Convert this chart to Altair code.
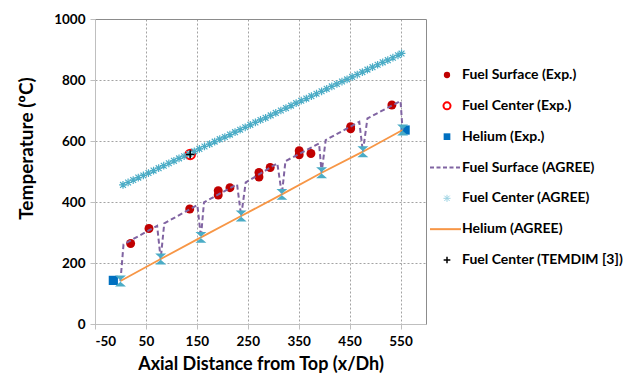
import altair as alt
import pandas as pd

# ---------------- data ----------------
# Fuel Surface (Exp.)
fs_exp_x = [20, 56, 136, 192, 192, 215, 272, 272, 294, 351, 351, 374, 452, 452, 533]
fs_exp_y = [264, 313, 377, 437, 423, 447, 497, 482, 513, 568, 555, 559, 647, 640, 718]

# Fuel Center (Exp.)
fc_exp_x = [137]
fc_exp_y = [556]

# Helium (Exp.)
he_exp_x = [-14, 559]
he_exp_y = [143, 636]

# Fuel Surface (AGREE) - dashed path with dips to helium temperature
fs_ag_x = [0, 6, 72, 79, 86, 151, 158, 164, 229, 237, 246, 308, 317, 324, 390, 395, 403, 469, 476, 485, 550, 554]
fs_ag_y = [141, 261, 322, 213, 330, 390, 284, 399, 458, 354, 464, 527, 425, 534, 592, 496, 603, 663, 565, 674, 731, 636]

# Fuel Center (AGREE) - dense asterisk chain
fc_ag_x = [5, 15, 25, 35, 45, 55, 65, 75, 85, 95, 105, 115, 125, 135, 145, 155, 165, 175, 185, 195,
           205, 215, 225, 235, 245, 255, 265, 275, 285, 295, 305, 315, 325, 335, 345, 355, 365, 375,
           385, 395, 405, 415, 425, 435, 445, 455, 465, 475, 485, 495, 505, 515, 525, 535, 545, 552]
fc_ag_y = [456, 464, 472, 480, 487, 495, 503, 511, 519, 527, 535, 543, 550, 558, 566, 574, 582, 590,
           598, 606, 613, 621, 629, 637, 645, 653, 661, 669, 676, 684, 692, 700, 708, 716, 724, 732,
           739, 747, 755, 763, 771, 779, 787, 795, 802, 810, 818, 826, 834, 842, 850, 858, 865, 873,
           881, 887]

# Fuel Center (AGREE) points in the gaps (drawn as star markers on the helium line)
gap_x = [0, 79, 158, 237, 317, 395, 476, 554]
gap_y = [141, 213, 284, 354, 425, 496, 565, 636]

# Helium (AGREE)
he_ag_x = [0, 79, 158, 237, 317, 395, 476, 554]
he_ag_y = [141, 213, 284, 354, 425, 496, 565, 636]

# Fuel Center (TEMDIM [3])
tem_x = [137]
tem_y = [556]

legend_labels = ["Fuel Surface (Exp.)", "Fuel Center (Exp.)", "Helium (Exp.)",
                 "Fuel Surface (AGREE)", "Fuel Center (AGREE)", "Helium (AGREE)",
                 "Fuel Center (TEMDIM [3])"]

x_ticks = [-50, 50, 150, 250, 350, 450, 550]
y_ticks = [0, 200, 400, 600, 800, 1000]

FONT = "Lato"
ASTER = "M-1,0L1,0M0,-1L0,1M-0.75,-0.75L0.75,0.75M-0.75,0.75L0.75,-0.75"
HOURGLASS = "M-1,-1L1,-1L-0.15,0L1,1L-1,1L0.15,0Z"
PLUS = "M-1,0L1,0M0,-1L0,1"

def df(xs, ys):
    return pd.DataFrame({"x": xs, "y": ys})

xs = alt.Scale(domain=[-50, 600], nice=False, zero=False)
ys = alt.Scale(domain=[0, 1000], nice=False)

X = alt.X("x:Q", scale=xs, axis=alt.Axis(
    values=x_ticks, title="Axial Distance from Top (x/Dh)", grid=True,
    labelExpr="'' + datum.value",
    gridDash=[2, 2], gridColor="#8c8c8c", gridWidth=0.8,
    domainColor="#bfbfbf", tickColor="#bfbfbf", tickSize=5,
    labelFont=FONT, labelFontWeight="bold", labelFontSize=13.5, labelColor="#000",
    labelPadding=5, titleFont=FONT, titleFontWeight="bold", titleFontSize=18,
    titleColor="#000", titlePadding=8))
Y = alt.Y("y:Q", scale=ys, axis=alt.Axis(
    values=y_ticks, title="Temperature (ºC)", grid=True,
    labelExpr="'' + datum.value",
    gridDash=[2, 2], gridColor="#8c8c8c", gridWidth=0.8,
    domainColor="#bfbfbf", tickColor="#bfbfbf", tickSize=5,
    labelFont=FONT, labelFontWeight="bold", labelFontSize=13.5, labelColor="#000",
    labelPadding=5, titleFont=FONT, titleFontWeight="bold", titleFontSize=19,
    titleColor="#000", titleX=-69, titleY=129, titleAngle=270, titleBaseline="middle"))

red_dots = alt.Chart(df(fs_exp_x, fs_exp_y)).mark_point(
    shape="circle", filled=True, color="#C00000", size=80, opacity=1).encode(x=X, y=Y)
open_circ = alt.Chart(df(fc_exp_x, fc_exp_y)).mark_point(
    shape="circle", filled=False, color="#FF0000", size=90, strokeWidth=2, opacity=1).encode(x=X, y=Y)
blue_sq = alt.Chart(df(he_exp_x, he_exp_y)).mark_point(
    shape="square", filled=True, color="#0070C0", size=85, opacity=1).encode(x=X, y=Y)
fc_ast = alt.Chart(df(fc_ag_x, fc_ag_y)).mark_point(
    shape=ASTER, filled=False, color="#4BACC6", size=60, strokeWidth=1.2, opacity=1).encode(x=X, y=Y)
he_line = alt.Chart(df(he_ag_x, he_ag_y)).mark_line(
    color="#F79646", strokeWidth=1.8).encode(x=X, y=Y)
gap_star = alt.Chart(df(gap_x, gap_y)).mark_point(
    shape=HOURGLASS, filled=True, color="#4BACC6", size=120, opacity=1).encode(x=X, y=Y)
tem = alt.Chart(df(tem_x, tem_y)).mark_point(
    shape=PLUS, filled=False, color="#000000", size=70, strokeWidth=1.5, opacity=1).encode(x=X, y=Y)

fs_df = df(fs_ag_x, fs_ag_y)
fs_df["idx"] = range(len(fs_df))
fs_line = alt.Chart(fs_df).mark_line(
    color="#8064A2", strokeDash=[5, 3], strokeWidth=2).encode(
    x=X, y=Y, order=alt.Order("idx:Q"))

main = alt.layer(red_dots, open_circ, blue_sq, fs_line, fc_ast, he_line, gap_star, tem).properties(
    width=331, height=305, view=alt.ViewBackground(stroke="#8c8c8c", strokeWidth=1))

# ---------------- legend panel ----------------
leg = pd.DataFrame({"label": legend_labels,
                    "kind": ["dot", "ocirc", "sq", "dash", "ast", "line", "plus"]})
LY = alt.Y("label:N", sort=legend_labels, axis=None,
           scale=alt.Scale(type="point", domain=legend_labels, range=[56, 241], padding=0))
base = alt.Chart(leg)
ltext = base.mark_text(align="left", baseline="middle", font=FONT, fontWeight="bold",
                       fontSize=14, color="#000").encode(x=alt.value(35), y=LY, text="label:N")
l_dot = base.transform_filter("datum.kind=='dot'").mark_point(
    shape="circle", filled=True, color="#C00000", size=40, opacity=1).encode(x=alt.value(20), y=LY)
l_oc = base.transform_filter("datum.kind=='ocirc'").mark_point(
    shape="circle", filled=False, color="#FF0000", size=50, strokeWidth=2, opacity=1).encode(x=alt.value(20), y=LY)
l_sq = base.transform_filter("datum.kind=='sq'").mark_point(
    shape="square", filled=True, color="#0070C0", size=45, opacity=1).encode(x=alt.value(20), y=LY)
l_dash = base.transform_filter("datum.kind=='dash'").mark_rule(
    color="#8064A2", strokeDash=[4, 2.5], strokeWidth=2).encode(x=alt.value(3), x2=alt.value(34), y=LY)
l_ast = base.transform_filter("datum.kind=='ast'").mark_point(
    shape=ASTER, filled=False, color="#9DD3E3", size=50, strokeWidth=1, opacity=1).encode(x=alt.value(20), y=LY)
l_line = base.transform_filter("datum.kind=='line'").mark_rule(
    color="#F79646", strokeWidth=2).encode(x=alt.value(3), x2=alt.value(34), y=LY)
l_plus = base.transform_filter("datum.kind=='plus'").mark_point(
    shape=PLUS, filled=False, color="#000", size=45, strokeWidth=1.5, opacity=1).encode(x=alt.value(20), y=LY)

legend = alt.layer(ltext, l_dot, l_oc, l_sq, l_dash, l_ast, l_line, l_plus).properties(
    width=205, height=305, view=alt.ViewBackground(stroke=None))

chart = alt.hconcat(main, legend, spacing=0).properties(
    padding={"left": 16, "top": 11, "right": 0, "bottom": 0}, background="white")

chart.save("out.html", embed_options={"renderer": "svg", "actions": False})
